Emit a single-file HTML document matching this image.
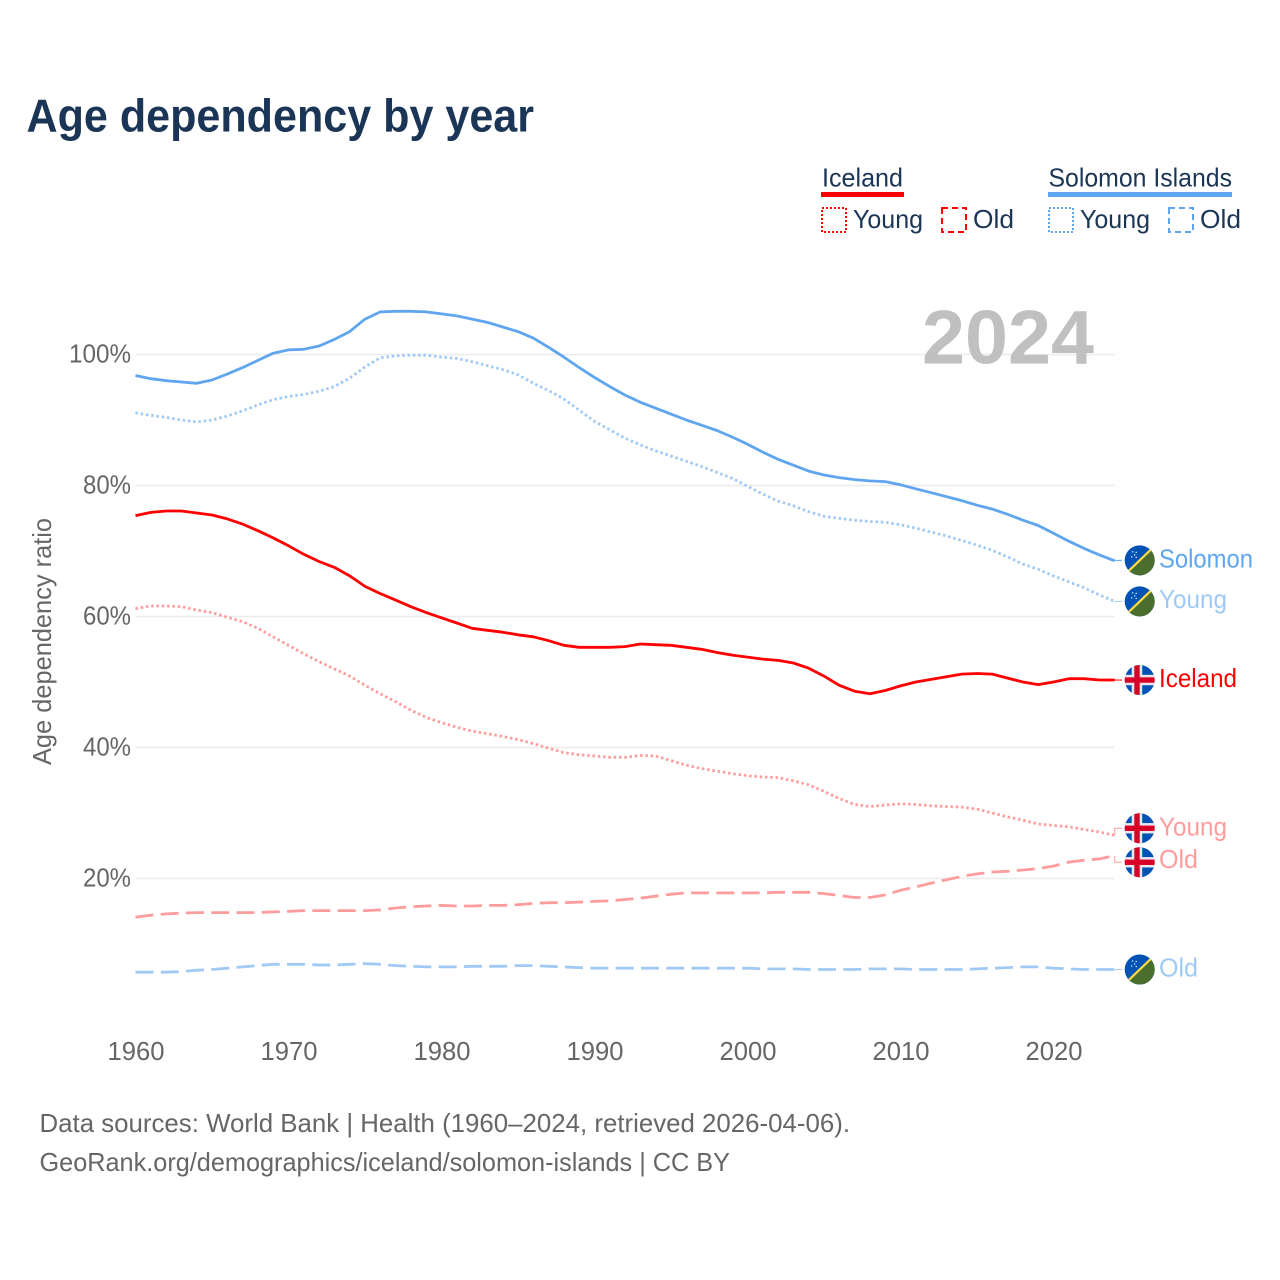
<!DOCTYPE html>
<html lang="en">
<head>
<meta charset="utf-8">
<title>Age dependency by year</title>
<style>
html,body{margin:0;padding:0;background:#fff;width:1280px;height:1280px;overflow:hidden}
svg{display:block}
text{font-family:"Liberation Sans",sans-serif}
.navy{fill:#1b3556}
.gray{fill:#666}
</style>
</head>
<body>
<svg id="chart" xmlns="http://www.w3.org/2000/svg" width="1280" height="1280" viewBox="0 0 1280 1280">
  <defs>
    <clipPath id="flag-clip"><circle cx="0" cy="0" r="15"></circle></clipPath>
  </defs>
  <rect width="1280" height="1280" fill="#fff"></rect>

  <text class="navy" x="26.5" y="131.5" font-size="46" font-weight="700" textLength="507.5" lengthAdjust="spacingAndGlyphs">Age dependency by year</text>

  <g>
    <text class="navy" x="822" y="186.5" font-size="26" textLength="81" lengthAdjust="spacingAndGlyphs">Iceland</text>
    <rect x="821" y="192" width="83" height="5" fill="#ff0000"></rect>
    <rect x="822" y="208" width="24" height="24" fill="none" stroke="#ff0000" stroke-width="2" stroke-dasharray="2 2"></rect>
    <text class="navy" x="853" y="228" font-size="26" textLength="70" lengthAdjust="spacingAndGlyphs">Young</text>
    <rect x="942" y="208" width="24" height="24" fill="none" stroke="#ff0000" stroke-width="2" stroke-dasharray="6 4"></rect>
    <text class="navy" x="973" y="228" font-size="26" textLength="41" lengthAdjust="spacingAndGlyphs">Old</text>

    <text class="navy" x="1048.5" y="186.5" font-size="26" textLength="183.5" lengthAdjust="spacingAndGlyphs">Solomon Islands</text>
    <rect x="1048" y="192" width="184" height="5" fill="#60a5ef"></rect>
    <rect x="1049" y="208" width="24" height="24" fill="none" stroke="#60a5ef" stroke-width="2" stroke-dasharray="2 2"></rect>
    <text class="navy" x="1080" y="228" font-size="26" textLength="70" lengthAdjust="spacingAndGlyphs">Young</text>
    <rect x="1169" y="208" width="24" height="24" fill="none" stroke="#60a5ef" stroke-width="2" stroke-dasharray="6 4"></rect>
    <text class="navy" x="1200" y="228" font-size="26" textLength="41" lengthAdjust="spacingAndGlyphs">Old</text>
  </g>

  <text class="gray" transform="translate(51,765) rotate(-90)" x="0" y="0" font-size="26" textLength="247" lengthAdjust="spacingAndGlyphs">Age dependency ratio</text>

  <g id="grid-layer"></g>
  <g id="y-tick-layer"></g>
  <g id="x-tick-layer"></g>

  <text x="922" y="363.5" font-size="76" font-weight="700" fill="#c0c0c0" textLength="172" lengthAdjust="spacingAndGlyphs">2024</text>

  <g id="line-layer"></g>
  <g id="end-layer"></g>

  <text class="gray" x="39.5" y="1132" font-size="26" textLength="810.5" lengthAdjust="spacingAndGlyphs">Data sources: World Bank | Health (1960–2024, retrieved 2026-04-06).</text>
  <text class="gray" x="39.5" y="1171" font-size="26" textLength="690.5" lengthAdjust="spacingAndGlyphs">GeoRank.org/demographics/iceland/solomon-islands | CC BY</text>
</svg>

<script>
const startYear = 1960;
const xTickYears = [1960, 1970, 1980, 1990, 2000, 2010, 2020];
const yTickValues = [20, 40, 60, 80, 100];

const solomonTotal = [
  96.8,96.3,96.0,95.8,95.6,96.1,97.0,98.0,99.1,100.2,
  100.7,100.8,101.3,102.3,103.5,105.4,106.5,106.6,106.6,106.5,
  106.2,105.9,105.4,104.9,104.2,103.5,102.5,101.1,99.6,98.0,
  96.5,95.1,93.8,92.7,91.8,90.9,90.0,89.2,88.4,87.4,
  86.3,85.1,84.0,83.1,82.2,81.6,81.2,80.9,80.7,80.6,
  80.1,79.5,78.9,78.3,77.7,77.0,76.4,75.6,74.7,73.9,
  72.7,71.5,70.4,69.4,68.5
];
const solomonYoung = [
  91.1,90.7,90.4,90.0,89.7,90.0,90.6,91.4,92.3,93.1,
  93.6,93.9,94.4,95.1,96.4,98.1,99.5,99.8,99.9,99.9,
  99.6,99.4,98.9,98.3,97.7,96.9,95.6,94.5,93.2,91.5,
  89.8,88.5,87.2,86.2,85.3,84.5,83.7,82.9,82.0,81.1,
  79.9,78.7,77.6,76.9,76.0,75.3,75.0,74.7,74.5,74.4,
  74.0,73.5,72.9,72.3,71.6,70.9,70.1,69.1,68.0,67.2,
  66.2,65.3,64.4,63.3,62.3
];
const solomonOld = [
  5.7,5.7,5.7,5.8,6.0,6.1,6.3,6.5,6.7,6.9,
  6.9,6.9,6.8,6.8,6.9,7.0,6.9,6.7,6.6,6.5,
  6.5,6.5,6.6,6.6,6.6,6.7,6.7,6.6,6.5,6.4,
  6.3,6.3,6.3,6.3,6.3,6.3,6.3,6.3,6.3,6.3,
  6.3,6.2,6.2,6.2,6.1,6.1,6.1,6.1,6.2,6.2,
  6.2,6.1,6.1,6.1,6.1,6.2,6.3,6.4,6.5,6.5,
  6.3,6.2,6.1,6.1,6.1
];
const icelandTotal = [
  75.4,75.9,76.1,76.1,75.8,75.5,74.9,74.1,73.1,72.0,
  70.8,69.5,68.4,67.5,66.2,64.6,63.5,62.5,61.5,60.6,
  59.8,59.0,58.2,57.9,57.6,57.2,56.9,56.3,55.6,55.3,
  55.3,55.3,55.4,55.8,55.7,55.6,55.3,55.0,54.5,54.1,
  53.8,53.5,53.3,52.9,52.1,50.9,49.5,48.6,48.2,48.7,
  49.4,50.0,50.4,50.8,51.2,51.3,51.2,50.6,50.0,49.6,
  50.0,50.5,50.5,50.3,50.3
];
const icelandYoung = [
  61.2,61.6,61.6,61.5,61.0,60.6,59.9,59.2,58.2,56.9,
  55.6,54.3,53.1,52.0,50.9,49.5,48.2,47.0,45.7,44.6,
  43.8,43.1,42.5,42.1,41.7,41.2,40.6,39.9,39.2,38.9,
  38.7,38.5,38.5,38.8,38.7,38.0,37.3,36.8,36.4,36.0,
  35.7,35.5,35.4,34.9,34.3,33.3,32.2,31.3,31.0,31.2,
  31.4,31.3,31.1,31.0,30.9,30.6,30.0,29.4,28.9,28.3,
  28.1,27.9,27.5,27.1,26.6
];
const icelandOld = [
  14.1,14.4,14.6,14.7,14.8,14.8,14.8,14.8,14.8,14.9,
  15.0,15.1,15.1,15.1,15.1,15.1,15.2,15.5,15.7,15.8,
  15.9,15.8,15.8,15.9,15.9,16.0,16.2,16.3,16.3,16.4,
  16.5,16.6,16.8,17.0,17.3,17.6,17.8,17.8,17.8,17.8,
  17.8,17.8,17.9,17.9,17.9,17.7,17.4,17.1,17.1,17.5,
  18.2,18.7,19.3,19.8,20.3,20.7,21.0,21.1,21.3,21.5,
  21.9,22.5,22.8,23.0,23.5
];

const NS = 'http://www.w3.org/2000/svg';
const xScale = year => 135.5 + (year - 1960) * 15.3;
const yScale = value => 1009.5 - value * 6.55;
const plotLeft = xScale(1960);
const plotRight = xScale(2024);

function make(tag, attrs, parent) {
  const node = document.createElementNS(NS, tag);
  for (const key in attrs) node.setAttribute(key, attrs[key]);
  parent.appendChild(node);
  return node;
}

const gridLayer = document.getElementById('grid-layer');
const yTickLayer = document.getElementById('y-tick-layer');
const xTickLayer = document.getElementById('x-tick-layer');
const lineLayer = document.getElementById('line-layer');
const endLayer = document.getElementById('end-layer');

yTickValues.forEach(value => {
  const line = make('line', {x1: plotLeft, x2: plotRight, y1: yScale(value), y2: yScale(value), stroke: '#ebebeb', 'stroke-width': 1.5}, gridLayer);
  
  
  const label = make('text', {x: 131, y: yScale(value) + 8, 'text-anchor': 'end', 'font-size': 26, class: 'gray', textLength: value >= 100 ? 62 : 48, lengthAdjust: 'spacingAndGlyphs'}, yTickLayer);
  label.textContent = value + '%';
  
  
});

xTickYears.forEach(year => {
  const label = make('text', {x: xScale(year) + 0.5, y: 1060, 'text-anchor': 'middle', 'font-size': 26, class: 'gray', textLength: 57, lengthAdjust: 'spacingAndGlyphs'}, xTickLayer);
  label.textContent = String(year);
  
  
});

function drawSeries(values, name, color, dash) {
  const pts = values.map((v, i) => xScale(startYear + i).toFixed(1) + ',' + yScale(v).toFixed(1)).join(' ');
  const attrs = {points: pts, fill: 'none', stroke: color, 'stroke-width': 2.8, 'stroke-linejoin': 'round'};
  if (dash) attrs['stroke-dasharray'] = dash;
  const line = make('polyline', attrs, lineLayer);
  
  
}

const DOT = '2.5 2.8';
const DASH = '18 7.3';
const BLUE = '#60a5ef';
const BLUE_LIGHT = '#a0c9f5';
const RED = '#ff0000';
const RED_LIGHT = '#ff9c9c';

drawSeries(solomonTotal, 'line-solomon-total', BLUE, null);
drawSeries(solomonYoung, 'line-solomon-young', BLUE_LIGHT, DOT);
drawSeries(solomonOld, 'line-solomon-old', BLUE_LIGHT, DASH);
drawSeries(icelandOld, 'line-iceland-old', RED_LIGHT, DASH);
drawSeries(icelandYoung, 'line-iceland-young', RED_LIGHT, DOT);
drawSeries(icelandTotal, 'line-iceland-total', RED, null);

function drawSolomonFlag(parent) {
  const clip = make('g', {'clip-path': 'url(#flag-clip)'}, parent);
  make('rect', {x: -16, y: -16, width: 32, height: 32, fill: '#0052b4'}, clip);
  make('polygon', {points: '16,-16 16,16 -16,16', fill: '#496e2d'}, clip);
  make('line', {x1: -13, y1: 12.5, x2: 13, y2: -12.5, stroke: '#ffda44', 'stroke-width': 2.2}, clip);
  [[-7,-8.5],[-3.5,-8],[-5,-5.5],[-8,-3.5],[-3.5,-3]].forEach(p => {
    make('circle', {cx: p[0], cy: p[1], r: 0.7, fill: '#ffffff'}, clip);
  });
}

function drawIcelandFlag(parent) {
  const clip = make('g', {'clip-path': 'url(#flag-clip)'}, parent);
  make('rect', {x: -16, y: -16, width: 32, height: 32, fill: '#0052b4'}, clip);
  make('rect', {x: -8, y: -16, width: 10.5, height: 32, fill: '#e8e8ee'}, clip);
  make('rect', {x: -16, y: -5.2, width: 32, height: 10.4, fill: '#e8e8ee'}, clip);
  make('rect', {x: -5.4, y: -16, width: 5.4, height: 32, fill: '#d80027'}, clip);
  make('rect', {x: -16, y: -2.7, width: 32, height: 5.4, fill: '#d80027'}, clip);
}

function drawEnd(values, key, text, color, flagFn, offset, width, labelShift) {
  const seriesY = yScale(values[values.length - 1]);
  const labelY = seriesY + offset;
  const conn = make('polyline', {points: plotRight + ',' + seriesY + ' ' + plotRight + ',' + labelY + ' 1122,' + labelY, fill: 'none', stroke: color, 'stroke-width': 1}, endLayer);
  
  
  const flag = make('g', {transform: 'translate(1139.7,' + labelY + ')'}, endLayer);
  
  
  flagFn(flag);
  const label = make('text', {x: 1159, y: labelY + 7 + labelShift, 'font-size': 26, fill: color, textLength: width, lengthAdjust: 'spacingAndGlyphs'}, endLayer);
  label.textContent = text;
  
  
}

drawEnd(solomonTotal, 'solomon-total', 'Solomon', BLUE, drawSolomonFlag, -0.5, 94, 0);
drawEnd(solomonYoung, 'solomon-young', 'Young', BLUE_LIGHT, drawSolomonFlag, 0, 68, -0.5);
drawEnd(solomonOld, 'solomon-old', 'Old', BLUE_LIGHT, drawSolomonFlag, 0, 39, 0);
drawEnd(icelandTotal, 'iceland-total', 'Iceland', RED, drawIcelandFlag, 0, 78, 0);
drawEnd(icelandYoung, 'iceland-young', 'Young', RED_LIGHT, drawIcelandFlag, -7, 68, 0);
drawEnd(icelandOld, 'iceland-old', 'Old', RED_LIGHT, drawIcelandFlag, 6.7, 39, -1.5);
</script>
</body>
</html>
